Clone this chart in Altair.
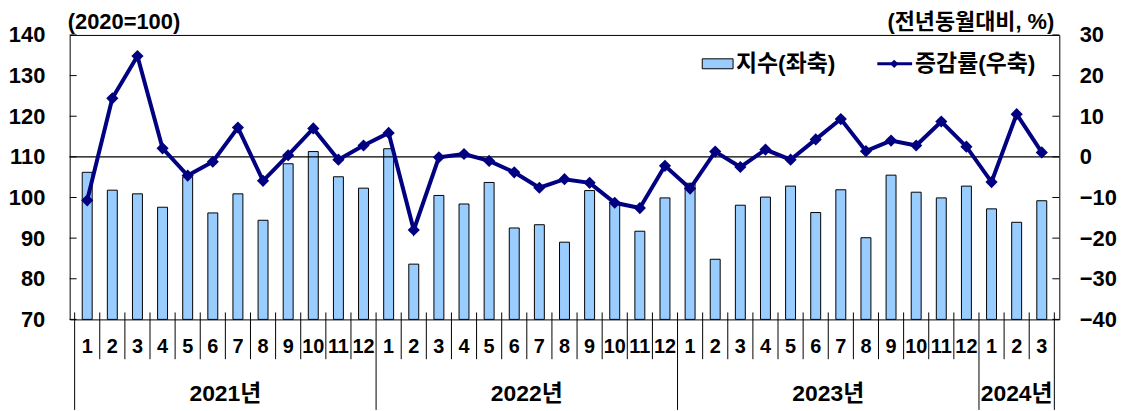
import altair as alt
import pandas as pd

# ---------------- data ----------------
year_names = ["2021년", "2022년", "2023년", "2024년"]
months_per_year = [12, 12, 12, 3]
month_labels = [str(m) for m in range(1, 13)] * 3 + ["1", "2", "3"]

index_values = [106.2, 101.8, 100.9, 97.6, 105.1, 96.2, 100.9, 94.4, 108.3, 111.3, 105.1, 102.3,
                112.0, 83.6, 100.5, 98.4, 103.7, 92.5, 93.3, 89.0, 101.7, 98.5, 91.7, 99.9,
                103.5, 84.8, 98.1, 100.1, 102.8, 96.3, 101.9, 90.1, 105.5, 101.3, 99.9, 102.8,
                97.2, 93.9, 99.2]
growth_rates = [-10.7, 14.4, 24.8, 2.1, -4.6, -1.2, 7.2, -5.9, 0.4, 7.0, -0.7, 2.8,
                5.9, -18.0, -0.1, 0.7, -1.0, -3.8, -7.6, -5.5, -6.4, -11.3, -12.6, -2.2,
                -7.8, 1.3, -2.5, 1.8, -0.7, 4.3, 9.3, 1.4, 4.0, 2.8, 8.7, 2.5,
                -6.2, 10.5, 1.1]

left_ticks = [70, 80, 90, 100, 110, 120, 130, 140]
right_ticks = [-40, -30, -20, -10, 0, 10, 20, 30]

left_title = "(2020=100)"
right_title = "(전년동월대비, %)"
legend_bar = "지수(좌축)"
legend_line = "증감률(우축)"

# ---------------- tables ----------------
n = len(index_values)
df = pd.DataFrame({
    "pos": [i + 0.5 for i in range(n)],
    "month": month_labels,
    "index": index_values,
    "rate": growth_rates,
})

year_starts = []
s = 0
for c in months_per_year:
    year_starts.append(s)
    s += c
year_df = pd.DataFrame({
    "year": year_names,
    "center": [st + c / 2 for st, c in zip(year_starts, months_per_year)],
})
year_bounds = set(year_starts[1:])
month_sep = pd.DataFrame({"b": [b for b in range(1, n) if b not in year_bounds]})
year_sep = pd.DataFrame({"b": [0] + sorted(year_bounds) + [n]})

FONT = "Liberation Sans, Arial, Noto Sans CJK KR"
BAR_FILL = "#99CCFF"
LINE_COL = "#000080"

xs = alt.Scale(domain=[0, n], nice=False, zero=False)
yl_scale = alt.Scale(domain=[70, 140], nice=False, zero=False)
yr_scale = alt.Scale(domain=[-40, 30], nice=False, zero=False)

left_axis = alt.Axis(values=left_ticks, ticks=False, domain=False, grid=False, orient="left",
                     labelFontSize=22, labelFontWeight="bold", labelFont=FONT, labelColor="black",
                     labelPadding=25, title=None)
right_axis = alt.Axis(values=right_ticks, ticks=False, domain=False, grid=False, orient="right",
                      labelFontSize=22, labelFontWeight="bold", labelFont=FONT, labelColor="black",
                      labelPadding=20, labelAlign="left", title=None)

X = alt.X("pos:Q", scale=xs, axis=None)

# ---------------- left group ----------------
bars = alt.Chart(df).mark_bar(size=10, fill=BAR_FILL, stroke="black", strokeWidth=1).encode(
    x=X,
    y=alt.Y("index:Q", scale=yl_scale, axis=left_axis),
    y2=alt.datum(70),
)
lt_df = pd.DataFrame({"v": left_ticks})
left_tick_rules = alt.Chart(lt_df).mark_rule(color="black", strokeWidth=1).encode(
    y=alt.Y("v:Q", scale=yl_scale, axis=left_axis),
    x=alt.value(0), x2=alt.value(7),
)
left_group = alt.layer(bars, left_tick_rules)

# ---------------- right group ----------------
rt_df = pd.DataFrame({"v": right_ticks})
right_tick_rules = alt.Chart(rt_df).mark_rule(color="black", strokeWidth=1).encode(
    y=alt.Y("v:Q", scale=yr_scale, axis=right_axis),
    x=alt.value(988), x2=alt.value(995),
)
zero_rule = alt.Chart(rt_df).transform_filter(alt.datum.v == 0).mark_rule(color="black", strokeWidth=1.2).encode(
    y=alt.Y("v:Q", scale=yr_scale, axis=right_axis),
    x=alt.value(0), x2=alt.value(995),
)
line = alt.Chart(df).mark_line(color=LINE_COL, strokeWidth=4).encode(
    x=X, y=alt.Y("rate:Q", scale=yr_scale, axis=right_axis),
)
pts = alt.Chart(df).mark_point(shape="diamond", filled=True, size=150, color=LINE_COL, opacity=1).encode(
    x=X, y=alt.Y("rate:Q", scale=yr_scale, axis=right_axis),
)
right_group = alt.layer(right_tick_rules, zero_rule, line, pts)

# ---------------- category axis ----------------
month_rules = alt.Chart(month_sep).mark_rule(color="black", strokeWidth=1).encode(
    x=alt.X("b:Q", scale=xs, axis=None), y=alt.value(279), y2=alt.value(326),
)
year_rules = alt.Chart(year_sep).mark_rule(color="black", strokeWidth=1).encode(
    x=alt.X("b:Q", scale=xs, axis=None), y=alt.value(279), y2=alt.value(377),
)
month_text = alt.Chart(df).mark_text(font=FONT, fontSize=20, fontWeight="bold", color="black",
                                     baseline="middle", align="center").encode(
    x=X, y=alt.value(314), text="month:N",
)
year_text = alt.Chart(year_df).mark_text(font=FONT, fontSize=23, fontWeight="bold", color="black",
                                         baseline="middle", align="center").encode(
    x=alt.X("center:Q", scale=xs, axis=None), y=alt.value(361), text="year:N",
)

# ---------------- titles ----------------
t_df = pd.DataFrame({"t": [left_title]})
t_left = alt.Chart(t_df).mark_text(font=FONT, fontSize=22, fontWeight="bold", color="black",
                                   align="left", baseline="middle").encode(
    x=alt.value(-2), y=alt.value(-13), text="t:N")
t2_df = pd.DataFrame({"t": [right_title]})
t_right = alt.Chart(t2_df).mark_text(font=FONT, fontSize=22, fontWeight="bold", color="black",
                                     align="right", baseline="middle").encode(
    x=alt.value(990), y=alt.value(-13), text="t:N")

# ---------------- legend ----------------
lg1 = pd.DataFrame({"t": [legend_bar]})
lg2 = pd.DataFrame({"t": [legend_line]})
leg_rect = alt.Chart(lg1).mark_rect(fill=BAR_FILL, stroke="black", strokeWidth=1).encode(
    x=alt.value(636), x2=alt.value(667), y=alt.value(24), y2=alt.value(34))
leg_t1 = alt.Chart(lg1).mark_text(font=FONT, fontSize=23, fontWeight="bold", color="black",
                                  align="left", baseline="middle").encode(
    x=alt.value(670), y=alt.value(29), text="t:N")
leg_line = alt.Chart(lg2).mark_rule(color=LINE_COL, strokeWidth=3).encode(
    x=alt.value(812), x2=alt.value(847), y=alt.value(29))
leg_pt = alt.Chart(lg2).mark_point(shape="diamond", filled=True, size=70, color=LINE_COL, opacity=1).encode(
    x=alt.value(829), y=alt.value(29))
leg_t2 = alt.Chart(lg2).mark_text(font=FONT, fontSize=23, fontWeight="bold", color="black",
                                  align="left", baseline="middle").encode(
    x=alt.value(850), y=alt.value(29), text="t:N")

chart = alt.layer(
    left_group, right_group,
    month_rules, year_rules, month_text, year_text,
    t_left, t_right, leg_rect, leg_t1, leg_line, leg_pt, leg_t2,
).resolve_scale(y="independent").properties(
    width=995, height=286,
    padding={"left": 62, "top": 26, "right": 58, "bottom": 91},
    autosize=alt.AutoSizeParams(type="none"),
    background="white",
).configure_view(stroke="black", strokeWidth=1)

chart.save("out.html", embed_options={"renderer": "svg", "actions": False})
